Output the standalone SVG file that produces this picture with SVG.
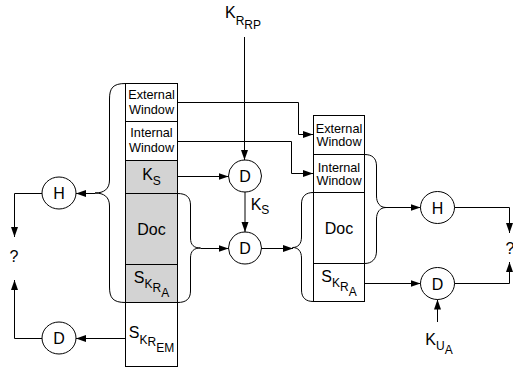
<svg xmlns="http://www.w3.org/2000/svg" width="513" height="374" viewBox="0 0 513 374">
<style>
text{font-family:"Liberation Sans",Arial,sans-serif;fill:#000}
.w{font-size:12.7px;text-anchor:middle}
.b{font-size:16px;text-anchor:middle}
.s{font-size:12px}
.q{font-size:16px;text-anchor:middle}
.cell{stroke:#000;stroke-width:1}
.g{fill:#d3d3d3}
.wh{fill:#fff}
.c{fill:#fff;stroke:#000;stroke-width:1}
.ln{fill:none;stroke:#000;stroke-width:1}
.ar{fill:none;stroke:#000;stroke-width:1;marker-end:url(#ah)}
</style>
<defs>
<marker id="ah" markerUnits="userSpaceOnUse" markerWidth="11" markerHeight="8" refX="10" refY="3.5" orient="auto">
<path d="M0,0 L10,3.5 L0,7 z" fill="#000"/>
</marker>
</defs>

<g id="left-stack">
<rect class="cell wh" x="125.5" y="83.5" width="52" height="38"/>
<rect class="cell wh" x="125.5" y="121.5" width="52" height="39"/>
<rect class="cell g" x="125.5" y="160.5" width="52" height="33"/>
<rect class="cell g" x="125.5" y="193.5" width="52" height="71"/>
<rect class="cell g" x="125.5" y="264.5" width="52" height="38"/>
<rect class="cell wh" x="125.5" y="302.5" width="52" height="64"/>
<text class="w" x="151.5" y="98.5">External</text>
<text class="w" x="151.5" y="113.5">Window</text>
<text class="w" x="151.5" y="137">Internal</text>
<text class="w" x="151.5" y="152">Window</text>
<text class="b" x="151.5" y="180">K<tspan class="s" dy="5">S</tspan></text>
<text class="b" x="151.5" y="234.5">Doc</text>
<text class="b" x="151.5" y="283">S<tspan class="s" dy="5">K</tspan><tspan class="s" dy="4">R</tspan><tspan class="s" dy="5">A</tspan></text>
<text class="b" x="151.5" y="338">S<tspan class="s" dy="6">K</tspan><tspan class="s" dy="2">R</tspan><tspan class="s" dy="6">EM</tspan></text>
</g>

<g id="right-stack">
<rect class="cell wh" x="313.5" y="115.5" width="51" height="39"/>
<rect class="cell wh" x="313.5" y="154.5" width="51" height="38"/>
<rect class="cell wh" x="313.5" y="192.5" width="51" height="71"/>
<rect class="cell wh" x="313.5" y="263.5" width="51" height="38"/>
<text class="w" x="339" y="133">External</text>
<text class="w" x="339" y="145.5">Window</text>
<text class="w" x="339" y="172">Internal</text>
<text class="w" x="339" y="184.5">Window</text>
<text class="b" x="339" y="234">Doc</text>
<text class="b" x="339" y="282">S<tspan class="s" dy="5">K</tspan><tspan class="s" dy="4">R</tspan><tspan class="s" dy="5">A</tspan></text>
</g>

<g id="node-H-left"><ellipse class="c" cx="59" cy="193" rx="17" ry="16"/><text class="b" x="59" y="199">H</text></g>
<g id="node-D-left"><ellipse class="c" cx="59" cy="338" rx="17" ry="16"/><text class="b" x="59" y="344">D</text></g>
<g id="node-D1"><ellipse class="c" cx="245" cy="176" rx="16.5" ry="16"/><text class="b" x="245" y="182">D</text></g>
<g id="node-D2"><ellipse class="c" cx="245" cy="248" rx="16.5" ry="16"/><text class="b" x="245" y="254">D</text></g>
<g id="node-H-right"><ellipse class="c" cx="437.5" cy="207.5" rx="17" ry="16"/><text class="b" x="437.5" y="213.5">H</text></g>
<g id="node-D-right"><ellipse class="c" cx="437.5" cy="283.5" rx="17" ry="16"/><text class="b" x="437.5" y="289.5">D</text></g>

<g id="labels">
<text class="b" x="243" y="18">K<tspan class="s" dy="7">R</tspan><tspan class="s" dy="4">RP</tspan></text>
<text class="b" x="260" y="210">K<tspan class="s" dy="4">S</tspan></text>
<text class="b" x="439" y="345">K<tspan class="s" dy="5">U</tspan><tspan class="s" dy="4">A</tspan></text>
<text class="q" x="14" y="262">?</text>
<text class="q" x="510" y="254">?</text>
</g>

<g id="connectors">
<path class="ln" d="M125.5,83.5 C113,83.5 109.5,88 109.5,99 L109.5,180 C109.5,189 104,193 95,193 C104,193 109.5,197 109.5,206 L109.5,287 C109.5,298 113,302.5 125.5,302.5"/>
<path class="ln" d="M177.5,193.5 C186,193.5 190.5,197 190.5,205 L190.5,238 C190.5,245 194,248 200.5,248 C194,248 190.5,251 190.5,258 L190.5,291 C190.5,299 186,302.5 177.5,302.5"/>
<path class="ln" d="M313.5,192.5 C306,192.5 301.5,196 301.5,204 L301.5,237 C301.5,244 298,247.5 292.5,247.5 C298,247.5 301.5,251 301.5,258 L301.5,290 C301.5,298 306,301.5 313.5,301.5"/>
<path class="ln" d="M364.5,154.5 C372,154.5 376.5,158 376.5,166 L376.5,196 C376.5,203 380,207.5 386,207.5 C380,207.5 376.5,212 376.5,219 L376.5,251 C376.5,259 372,263.5 364.5,263.5"/>
<path class="ar" d="M244.5,37 L244.5,160"/>
<path class="ar" d="M177.5,176.5 L228.5,176.5"/>
<path class="ar" d="M245,192 L245,232"/>
<path class="ar" d="M177.5,102.5 L298.5,102.5 L298.5,134.5 L313,134.5"/>
<path class="ar" d="M177.5,141.5 L291.5,141.5 L291.5,173.5 L313,173.5"/>
<path class="ar" d="M200.5,248.5 L228.5,248.5"/>
<path class="ar" d="M261.5,248.5 L293,248.5"/>
<path class="ar" d="M95,193.5 L76,193.5"/>
<path class="ar" d="M42,193.5 L14.5,193.5 L14.5,237"/>
<path class="ar" d="M125.5,338.5 L76,338.5"/>
<path class="ar" d="M42,338.5 L14.5,338.5 L14.5,280"/>
<path class="ar" d="M386,207.5 L420.5,207.5"/>
<path class="ar" d="M454.5,207.5 L509.5,207.5 L509.5,233"/>
<path class="ar" d="M364.5,283.5 L420.5,283.5"/>
<path class="ar" d="M454.5,283.5 L509.5,283.5 L509.5,262"/>
<path class="ar" d="M437.5,322 L437.5,299.5"/>
</g>
</svg>
